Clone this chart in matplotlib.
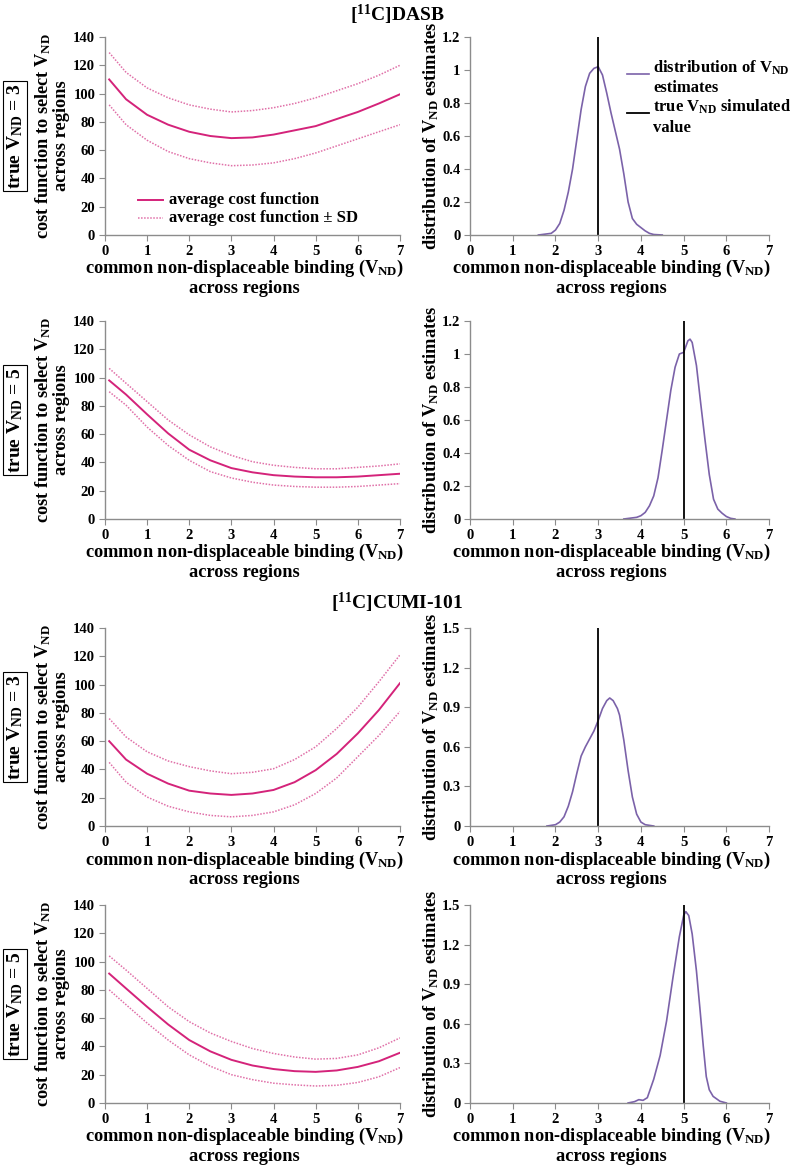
import numpy as np
import matplotlib
matplotlib.use('Agg')
import matplotlib.pyplot as plt

# --- fonts ---
plt.rcParams['font.family'] = ['Liberation Serif', 'DejaVu Serif']
plt.rcParams['font.weight'] = 'bold'
plt.rcParams['mathtext.fontset'] = 'custom'
plt.rcParams['mathtext.rm'] = 'Liberation Serif:bold'
plt.rcParams['mathtext.bf'] = 'Liberation Serif:bold'
plt.rcParams['mathtext.it'] = 'Liberation Serif:bold'

COST_COLOR = '#d4237a'
SD_COLOR = '#e070a8'
DIST_COLOR = '#7b62a9'
SPINE_COLOR = '#8c8c8c'

# --- data: cost functions (x = common V_ND) ---
cost_x = [0.1, 0.5, 1, 1.5, 2, 2.5, 3, 3.5, 4, 4.5, 5, 5.5, 6, 6.5, 7]

dasb3_mean = [110, 96, 85, 78, 73, 70, 68.5, 69, 71, 74, 77, 82, 87, 93, 99.5]
dasb3_up = [129, 115, 104, 97, 92, 89, 87, 88, 90, 93, 97, 102, 107, 113, 120]
dasb3_lo = [92, 78, 67, 59, 54, 51, 49, 49.5, 51, 54, 58, 63, 68, 73, 78]

dasb5_mean = [98, 88, 74, 60.5, 49, 41.5, 36, 33, 31, 30, 29.5, 29.5, 30, 31, 32]
dasb5_up = [106.5, 96, 83, 70, 59.5, 51, 45, 40.5, 38, 36.5, 35.5, 35.5, 36.5, 37.5, 39]
dasb5_lo = [90, 80.5, 65, 52, 41.5, 33.5, 29, 26, 24, 23, 22.5, 22.5, 23, 24, 25]

cumi3_mean = [60, 47, 37, 30, 25, 23, 22, 23, 25.5, 31, 39.5, 51, 65.5, 82, 101]
cumi3_up = [76, 63, 52.5, 46, 42, 39, 37, 38, 40.5, 47, 56, 69, 84, 102, 121]
cumi3_lo = [45, 31, 20.5, 14, 10, 7.5, 6.5, 7.5, 10, 15, 23, 34, 49, 64, 81]

cumi5_mean = [91.5, 81, 68, 55.5, 44.5, 36.5, 30.5, 26.5, 24, 22.5, 22, 23, 25.5, 29.5, 35.5]
cumi5_up = [104, 94, 81, 68, 57.5, 49.5, 43.5, 38.5, 35, 32.5, 31, 31.5, 34, 39, 46]
cumi5_lo = [80, 69.5, 56.5, 44.5, 34, 26, 20, 16.5, 14, 12.8, 12, 12.5, 14.5, 18.5, 25]

# --- data: distributions of V_ND estimates ---
dasb3_dx = [1.6, 1.9, 2.0, 2.1, 2.2, 2.3, 2.4, 2.5, 2.6, 2.7, 2.8, 2.9, 3.0, 3.1, 3.2,
            3.3, 3.4, 3.5, 3.6, 3.7, 3.8, 3.9, 4.0, 4.1, 4.2, 4.3, 4.5]
dasb3_dy = [0, 0.01, 0.03, 0.07, 0.15, 0.26, 0.4, 0.58, 0.76, 0.9, 0.98, 1.01, 1.02, 0.97,
            0.86, 0.74, 0.63, 0.52, 0.37, 0.2, 0.1, 0.065, 0.045, 0.025, 0.01, 0.003, 0]

dasb5_dx = [3.6, 3.9, 4.0, 4.1, 4.2, 4.3, 4.4, 4.5, 4.6, 4.7, 4.8, 4.9, 5.0, 5.1, 5.15,
            5.2, 5.3, 5.4, 5.5, 5.6, 5.7, 5.8, 5.9, 6.0, 6.1, 6.2]
dasb5_dy = [0, 0.01, 0.02, 0.04, 0.08, 0.14, 0.25, 0.42, 0.6, 0.78, 0.92, 1.0, 1.01, 1.08,
            1.09, 1.07, 0.93, 0.7, 0.48, 0.27, 0.12, 0.06, 0.035, 0.015, 0.004, 0]

cumi3_dx = [1.8, 2.0, 2.1, 2.2, 2.3, 2.4, 2.5, 2.6, 2.7, 2.8, 2.9, 3.0, 3.1, 3.2, 3.27,
            3.35, 3.45, 3.5, 3.6, 3.7, 3.8, 3.9, 4.0, 4.1, 4.3]
cumi3_dy = [0, 0.01, 0.03, 0.07, 0.15, 0.26, 0.4, 0.53, 0.6, 0.66, 0.72, 0.8, 0.89, 0.95,
            0.97, 0.95, 0.89, 0.84, 0.65, 0.42, 0.22, 0.09, 0.03, 0.01, 0]

cumi5_dx = [3.7, 3.85, 3.95, 4.05, 4.15, 4.3, 4.45, 4.6, 4.75, 4.9, 5.0, 5.05, 5.12, 5.2,
            5.3, 5.38, 5.46, 5.53, 5.6, 5.69, 5.85, 6.0]
cumi5_dy = [0, 0.01, 0.025, 0.02, 0.04, 0.18, 0.36, 0.62, 0.95, 1.26, 1.42, 1.45, 1.42,
            1.28, 1.0, 0.72, 0.43, 0.2, 0.1, 0.05, 0.013, 0]

true_values = [3, 5, 3, 5]

# --- layout (figure fractions) ---
fig = plt.figure(figsize=(7.94, 11.75), dpi=100)
left_x, left_w = 0.1322, 0.3715
right_x, right_w = 0.592, 0.3766
bottoms = [0.800, 0.5583, 0.297, 0.0613]
height = 0.1685

cost_sets = [(dasb3_mean, dasb3_up, dasb3_lo), (dasb5_mean, dasb5_up, dasb5_lo),
             (cumi3_mean, cumi3_up, cumi3_lo), (cumi5_mean, cumi5_up, cumi5_lo)]
dist_sets = [(dasb3_dx, dasb3_dy), (dasb5_dx, dasb5_dy),
             (cumi3_dx, cumi3_dy), (cumi5_dx, cumi5_dy)]
dist_ylims = [1.2, 1.2, 1.5, 1.5]
dist_ticks = [np.arange(0, 1.21, 0.2), np.arange(0, 1.21, 0.2),
              np.arange(0, 1.51, 0.3), np.arange(0, 1.51, 0.3)]

ND = 'V$_{\\mathbf{ND}}$'
XLABEL = 'common non-displaceable binding (' + ND + ')\nacross regions'
LABEL_SIZE = 13.2
LEG_SIZE = 12


def style_axes(ax):
    for s in ['top', 'right']:
        ax.spines[s].set_visible(False)
    for s in ['left', 'bottom']:
        ax.spines[s].set_color(SPINE_COLOR)
        ax.spines[s].set_linewidth(1.0)
    ax.tick_params(axis='both', colors=SPINE_COLOR, labelcolor='black',
                   labelsize=10.5, length=4, direction='out', pad=3)
    for lab in ax.get_xticklabels() + ax.get_yticklabels():
        lab.set_fontweight('bold')
    ax.set_xlim(0, 7)
    ax.set_xticks(range(8))
    ax.set_xlabel(XLABEL, fontsize=LABEL_SIZE, fontweight='bold', linespacing=1.05)
    # reference labels sit a little left of the axis centre
    ax.xaxis.set_label_coords(0.472, -0.118, transform=ax.transAxes)
    ax.xaxis.label.set_va('top')


def fmt_tick(v):
    return '0' if v == 0 else ('%g' % round(v, 2))


def legend_entry(ax, x0, x1, yline, xt, yt, text, **line_kw):
    ax.plot([x0, x1], [yline, yline], transform=ax.transAxes, clip_on=False, **line_kw)
    ax.text(xt, yt, text, transform=ax.transAxes, ha='left', va='center',
            fontsize=LEG_SIZE, fontweight='bold')


for i in range(4):
    b = bottoms[i]
    # cost function panel
    ax = fig.add_axes([left_x, b, left_w, height])
    mean, up, lo = cost_sets[i]
    ax.plot(cost_x, mean, color=COST_COLOR, lw=1.4)
    ax.plot(cost_x, up, color=SD_COLOR, lw=1.1, ls=(0, (1, 1)))
    ax.plot(cost_x, lo, color=SD_COLOR, lw=1.1, ls=(0, (1, 1)))
    ax.set_ylim(0, 140)
    ax.set_yticks(range(0, 141, 20))
    style_axes(ax)
    ax.set_ylabel('cost function to select ' + ND + '\nacross regions',
                  fontsize=LABEL_SIZE, fontweight='bold', labelpad=2, linespacing=1.05)
    if i == 0:
        legend_entry(ax, 0.112, 0.197, 0.177, 0.217, 0.177, 'average cost function',
                     color=COST_COLOR, lw=1.4)
        legend_entry(ax, 0.112, 0.197, 0.086, 0.217, 0.086,
                     'average cost function \u00b1 SD',
                     color=SD_COLOR, lw=1.1, ls=(0, (1, 1)))

    # side box label
    fig.text(15 / 794, b + height / 2, 'true ' + ND + ' = %d' % true_values[i],
             rotation=90, ha='center', va='center', fontsize=14, fontweight='bold',
             bbox=dict(boxstyle='square,pad=0.12', fc='white', ec='black', lw=0.8))

    # distribution panel
    ax2 = fig.add_axes([right_x, b, right_w, height])
    dx, dy = dist_sets[i]
    ax2.plot(dx, dy, color=DIST_COLOR, lw=1.2)
    ax2.axvline(true_values[i], color='black', lw=1.3)
    ax2.set_ylim(0, dist_ylims[i])
    ax2.set_yticks(dist_ticks[i])
    ax2.set_yticklabels([fmt_tick(v) for v in dist_ticks[i]])
    style_axes(ax2)
    ax2.set_ylabel('distribution of ' + ND + ' estimates',
                   fontsize=LABEL_SIZE, fontweight='bold', labelpad=1)
    if i == 0:
        legend_entry(ax2, 0.525, 0.599, 0.813, 0.612, 0.843, 'distribution of ' + ND,
                     color=DIST_COLOR, lw=1.2)
        ax2.text(0.612, 0.742, 'estimates', transform=ax2.transAxes, ha='left',
                 va='center', fontsize=LEG_SIZE, fontweight='bold')
        legend_entry(ax2, 0.525, 0.599, 0.616, 0.612, 0.646,
                     'true ' + ND + ' simulated', color='black', lw=1.3)
        ax2.text(0.612, 0.540, 'value', transform=ax2.transAxes, ha='left',
                 va='center', fontsize=LEG_SIZE, fontweight='bold')

# section titles
fig.text(0.5, 1 - 15 / 1175, '[$^{\\mathbf{11}}$C]DASB', ha='center', va='center',
         fontsize=14, fontweight='bold')
fig.text(0.5, 1 - 603 / 1175, '[$^{\\mathbf{11}}$C]CUMI-101', ha='center', va='center',
         fontsize=14, fontweight='bold')

fig.savefig('out.png', dpi=100)
